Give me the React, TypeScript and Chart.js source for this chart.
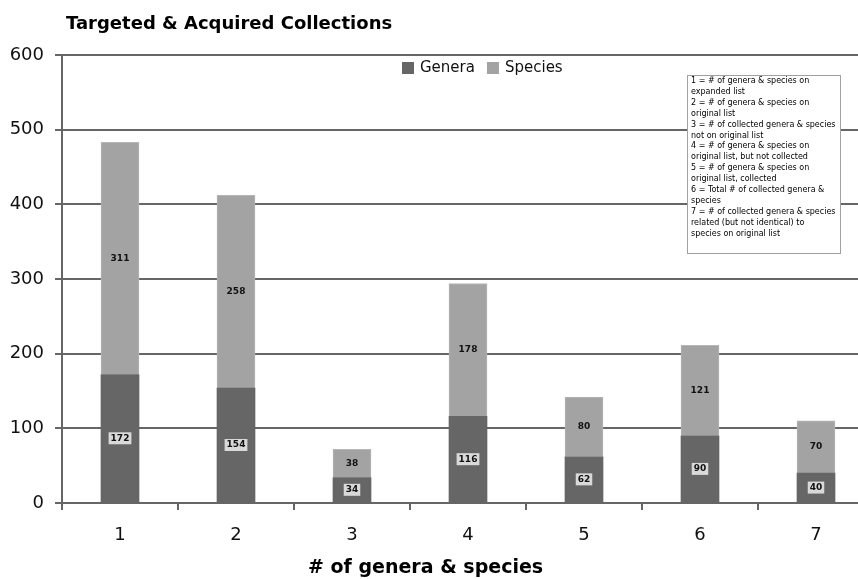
import React, { useEffect, useRef } from "react";
import { Chart, registerables } from "chart.js";

Chart.register(...registerables);

const categories = ["1", "2", "3", "4", "5", "6", "7"];
const generaValues = [172, 154, 34, 116, 62, 90, 40];
const speciesValues = [311, 258, 38, 178, 80, 121, 70];
const seriesNames = ["Genera", "Species"];
const seriesColors = ["#666666", "#a3a3a3"];
const yMin = 0;
const yMax = 600;
const yStep = 100;
const chartTitle = "Targeted & Acquired Collections";
const xAxisTitle = "# of genera & species";
const noteLines = [
  "1 = # of genera & species on",
  "expanded list",
  "2 = # of genera & species on",
  "original list",
  "3 = # of collected genera & species",
  "not on original list",
  "4 = # of genera & species on",
  "original list, but not collected",
  "5 = # of genera & species on",
  "original list, collected",
  "6 = Total # of collected genera &",
  "species",
  "7 = # of collected genera & species",
  "related (but not identical) to",
  "species on original list",
];

const FONT = '"DejaVu Sans", Verdana, sans-serif';

const decorPlugin = {
  id: "decor",
  afterDatasetsDraw(chart: any) {
    const ctx = chart.ctx;
    ctx.save();
    ctx.font = `bold 9px ${FONT}`;
    ctx.textAlign = "center";
    ctx.textBaseline = "middle";
    chart.data.datasets.forEach((ds: any, di: number) => {
      const meta = chart.getDatasetMeta(di);
      meta.data.forEach((el: any, i: number) => {
        const v = ds.data[i];
        const txt = String(v);
        const cx = el.x;
        const cy = (el.y + el.base) / 2;
        if (di === 0) {
          const w = ctx.measureText(txt).width + 4;
          ctx.fillStyle = "#d9d9d9";
          ctx.fillRect(cx - w / 2, cy - 6, w, 12);
        }
        ctx.fillStyle = "#111";
        ctx.fillText(txt, cx, cy);
      });
    });
    ctx.restore();
  },
  afterDraw(chart: any) {
    const ctx = chart.ctx;
    ctx.save();
    // legend (inside plot, top centre)
    ctx.font = `15px ${FONT}`;
    ctx.textAlign = "left";
    ctx.textBaseline = "middle";
    let lx = 402;
    chart.data.datasets.forEach((ds: any) => {
      ctx.fillStyle = ds.backgroundColor;
      ctx.fillRect(lx, 62, 12, 12);
      ctx.fillStyle = "#111";
      ctx.fillText(ds.label, lx + 18, 68.5);
      lx += 18 + ctx.measureText(ds.label).width + 12;
    });
    // chart title
    ctx.fillStyle = "#000";
    ctx.font = `bold 18px ${FONT}`;
    ctx.textBaseline = "alphabetic";
    ctx.fillText(chartTitle, 66, 29);
    // x axis title
    ctx.font = `bold 19px ${FONT}`;
    ctx.fillText(xAxisTitle, 308, 573);
    // note box
    const bx = 687, by = 75, bw = 153, bh = 178;
    ctx.fillStyle = "#fff";
    ctx.fillRect(bx, by, bw, bh);
    ctx.strokeStyle = "#a0a0a0";
    ctx.lineWidth = 1;
    ctx.strokeRect(bx + 0.5, by + 0.5, bw, bh);
    ctx.fillStyle = "#000";
    ctx.font = `8px ${FONT}`;
    ctx.textBaseline = "middle";
    noteLines.forEach((line, i) => {
      ctx.fillText(line, 691, 81 + i * 10.9);
    });
    ctx.restore();
  },
};

export default function App() {
  const canvasRef = useRef<HTMLCanvasElement | null>(null);

  useEffect(() => {
    const canvas = canvasRef.current;
    if (!canvas) return;
    const chart = new Chart(canvas, {
      type: "bar",
      data: {
        labels: categories,
        datasets: [
          {
            label: seriesNames[0],
            data: generaValues,
            backgroundColor: seriesColors[0],
            borderWidth: 0,
            barThickness: 38,
          },
          {
            label: seriesNames[1],
            data: speciesValues,
            backgroundColor: seriesColors[1],
            borderColor: "#b6b6b6",
            borderWidth: 1,
            barThickness: 38,
          },
        ],
      },
      options: {
        responsive: false,
        animation: false,
        devicePixelRatio: 1,
        layout: { padding: { top: 55, left: 0, right: 0, bottom: 0 } },
        plugins: {
          title: { display: false },
          tooltip: { enabled: false },
          legend: { display: false },
        },
        scales: {
          x: {
            stacked: true,
            grid: {
              display: true,
              drawOnChartArea: false,
              drawTicks: true,
              tickLength: 7,
              color: "#666",
              lineWidth: 2,
              offset: true,
            },
            border: { display: true, color: "#666", width: 2 },
            ticks: {
              color: "#111",
              font: { family: FONT, size: 18 },
              padding: 15,
            },
            afterFit: (s: any) => {
              s.height = 76;
            },
          },
          y: {
            stacked: true,
            min: yMin,
            max: yMax,
            ticks: {
              stepSize: yStep,
              color: "#111",
              font: { family: FONT, size: 18 },
              padding: 11,
            },
            grid: {
              color: "#666",
              lineWidth: 2,
              tickLength: 7,
              drawTicks: true,
            },
            border: { display: true, color: "#666", width: 2 },
            afterFit: (s: any) => {
              s.width = 62;
            },
          },
        },
      },
      plugins: [decorPlugin],
    } as any);
    return () => chart.destroy();
  }, []);

  return (
    <div
      style={{
        position: "fixed",
        left: 0,
        top: 0,
        width: 858,
        height: 579,
        overflow: "hidden",
        background: "#fff",
      }}
    >
      <canvas
        ref={canvasRef}
        width={874}
        height={579}
        style={{ width: 874, height: 579, display: "block" }}
      />
    </div>
  );
}
